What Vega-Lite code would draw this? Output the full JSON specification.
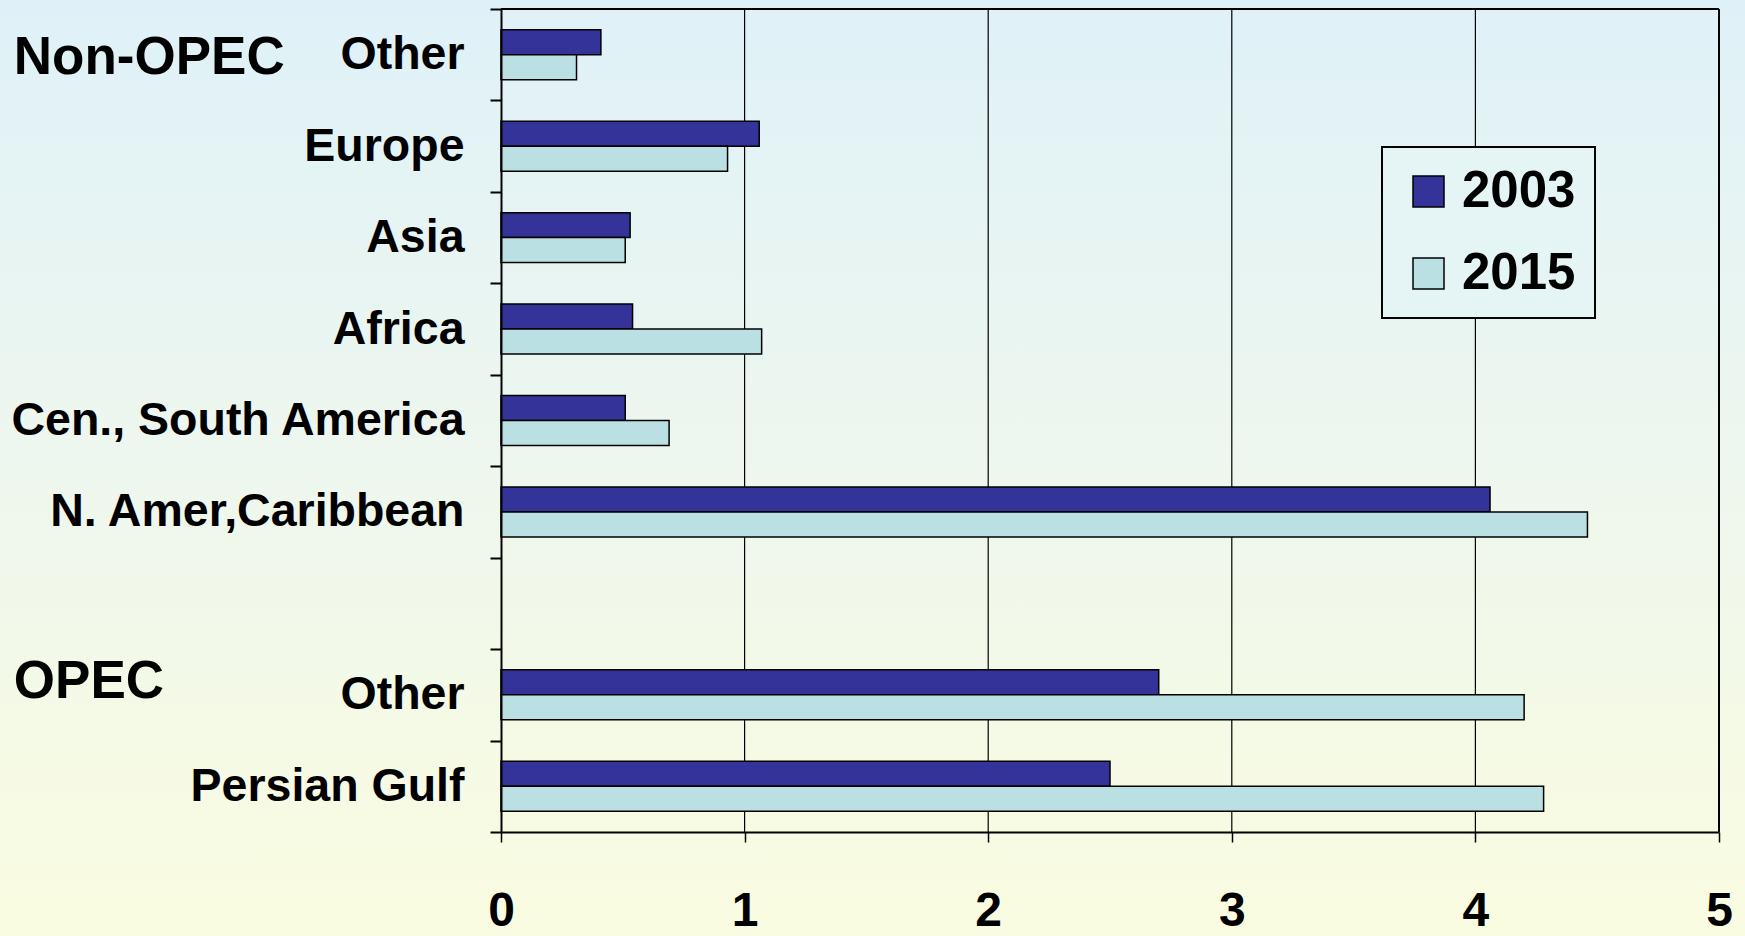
{
  "$schema": "https://vega.github.io/schema/vega-lite/v6.json",
  "width": 1218,
  "height": 823,
  "autosize": {"type": "none"},
  "padding": {"left": 501, "top": 9, "right": 26, "bottom": 104},
  "background": "#EBF5EF",
  "config": {
    "view": {"stroke": null},
    "font": "Liberation Sans",
    "axis": {"zindex": 2},
    "legend": {"strokeWidth": 2}
  },
  "datasets": {
    "bars": [
      {"region": "Other|N", "year": "2003", "value": 0.41},
      {"region": "Other|N", "year": "2015", "value": 0.31},
      {"region": "Europe", "year": "2003", "value": 1.06},
      {"region": "Europe", "year": "2015", "value": 0.93},
      {"region": "Asia", "year": "2003", "value": 0.53},
      {"region": "Asia", "year": "2015", "value": 0.51},
      {"region": "Africa", "year": "2003", "value": 0.54},
      {"region": "Africa", "year": "2015", "value": 1.07},
      {"region": "Cen., South America", "year": "2003", "value": 0.51},
      {"region": "Cen., South America", "year": "2015", "value": 0.69},
      {"region": "N. Amer,Caribbean", "year": "2003", "value": 4.06},
      {"region": "N. Amer,Caribbean", "year": "2015", "value": 4.46},
      {"region": "Other|O", "year": "2003", "value": 2.70},
      {"region": "Other|O", "year": "2015", "value": 4.20},
      {"region": "Persian Gulf", "year": "2003", "value": 2.50},
      {"region": "Persian Gulf", "year": "2015", "value": 4.28}
    ],
    "groups": [
      {"group": "Non-OPEC", "region": "Other|N"},
      {"group": "OPEC", "region": "Other|O"}
    ],
    "one": [{}]
  },
  "layer": [
    {
      "data": {"name": "one"},
      "mark": {"type": "rect", "clip": false, "fill": {"gradient": "linear", "x1": 0, "y1": 0, "x2": 0, "y2": 1, "stops": [{"offset": 0, "color": "#DFF1F8"}, {"offset": 0.5, "color": "#EEF7EE"}, {"offset": 1, "color": "#FAFCE0"}]}},
      "encoding": {
        "x": {"datum": -2.07},
        "x2": {"datum": 5.12},
        "y": {"datum": "Other|N", "bandPosition": -0.11},
        "y2": {"datum": "Persian Gulf", "bandPosition": 2.15}
      }
    },
    {"data": {"name": "one"}, "mark": {"type": "rule", "color": "#000000", "strokeWidth": 1.2}, "encoding": {"x": {"datum": 1}}},
    {"data": {"name": "one"}, "mark": {"type": "rule", "color": "#000000", "strokeWidth": 1.2}, "encoding": {"x": {"datum": 2}}},
    {"data": {"name": "one"}, "mark": {"type": "rule", "color": "#000000", "strokeWidth": 1.2}, "encoding": {"x": {"datum": 3}}},
    {"data": {"name": "one"}, "mark": {"type": "rule", "color": "#000000", "strokeWidth": 1.2}, "encoding": {"x": {"datum": 4}}},
    {"data": {"name": "one"}, "mark": {"type": "rule", "color": "#000000", "strokeWidth": 2}, "encoding": {"x": {"datum": 5}}},
    {"data": {"name": "one"}, "mark": {"type": "rule", "color": "#000000", "strokeWidth": 2}, "encoding": {"y": {"datum": "Other|N", "bandPosition": 0}}},
    {
      "data": {"name": "bars"},
      "mark": {"type": "bar", "stroke": "#000000", "strokeWidth": 1.5},
      "encoding": {
        "y": {
          "field": "region",
          "type": "nominal",
          "scale": {"domain": ["Other|N", "Europe", "Asia", "Africa", "Cen., South America", "N. Amer,Caribbean", " ", "Other|O", "Persian Gulf"], "paddingInner": 0, "paddingOuter": 0},
          "axis": {
            "title": null,
            "zindex": 2,
            "labelExpr": "isString(datum.value) && datum.value != ' ' ? split(datum.value, '|')[0] : ''",
            "labelFont": "Liberation Sans",
            "labelFontSize": 46.5,
            "labelFontWeight": "bold",
            "labelColor": "#000000",
            "labelPadding": 26,
            "labelLimit": 0,
            "tickBand": "extent",
            "tickSize": 11,
            "tickColor": "#000000",
            "tickWidth": 2,
            "domainColor": "#000000",
            "domainWidth": 2,
            "grid": false
          }
        },
        "yOffset": {"field": "year", "type": "nominal", "scale": {"paddingOuter": 0.83, "paddingInner": 0}},
        "x": {
          "field": "value",
          "type": "quantitative",
          "scale": {"domain": [0, 5], "nice": false},
          "axis": {
            "title": null,
            "zindex": 2,
            "values": [0, 1, 2, 3, 4, 5],
            "format": "d",
            "grid": false,
            "tickSize": 10,
            "tickColor": "#000000",
            "tickWidth": 1.5,
            "domainColor": "#000000",
            "domainWidth": 2,
            "labelFont": "Liberation Sans",
            "labelFontSize": 48,
            "labelFontWeight": "bold",
            "labelColor": "#000000",
            "labelPadding": 45,
            "labelFlush": false
          }
        },
        "color": {
          "field": "year",
          "type": "nominal",
          "scale": {"domain": ["2003", "2015"], "range": ["#333399", "#BBE0E3"]},
          "legend": {
            "title": null,
            "orient": "none",
            "legendX": 881,
            "legendY": 138,
            "zindex": 2,
            "direction": "vertical",
            "symbolType": "square",
            "symbolSize": 961,
            "symbolStrokeColor": "#000000",
            "symbolStrokeWidth": 1.5,
            "symbolOffset": 2,
            "labelFont": "Liberation Sans",
            "labelFontSize": 51,
            "labelFontWeight": "bold",
            "labelColor": "#000000",
            "labelOffset": 8,
            "rowPadding": 30,
            "padding": 19,
            "strokeColor": "#000000",
            "fillColor": "#E5F4F5"
          }
        }
      }
    },
    {
      "data": {"name": "groups"},
      "transform": [{"filter": "datum.group == 'Non-OPEC'"}],
      "mark": {"type": "text", "align": "left", "baseline": "middle", "font": "Liberation Sans", "fontSize": 53, "fontWeight": "bold", "color": "#000000", "dy": 3},
      "encoding": {
        "y": {"field": "region", "type": "nominal"},
        "x": {"datum": -2},
        "text": {"field": "group"}
      }
    },
    {
      "data": {"name": "groups"},
      "transform": [{"filter": "datum.group == 'OPEC'"}],
      "mark": {"type": "text", "align": "left", "baseline": "middle", "font": "Liberation Sans", "fontSize": 53, "fontWeight": "bold", "color": "#000000", "dy": -13},
      "encoding": {
        "y": {"field": "region", "type": "nominal"},
        "x": {"datum": -2},
        "text": {"field": "group"}
      }
    }
  ]
}
